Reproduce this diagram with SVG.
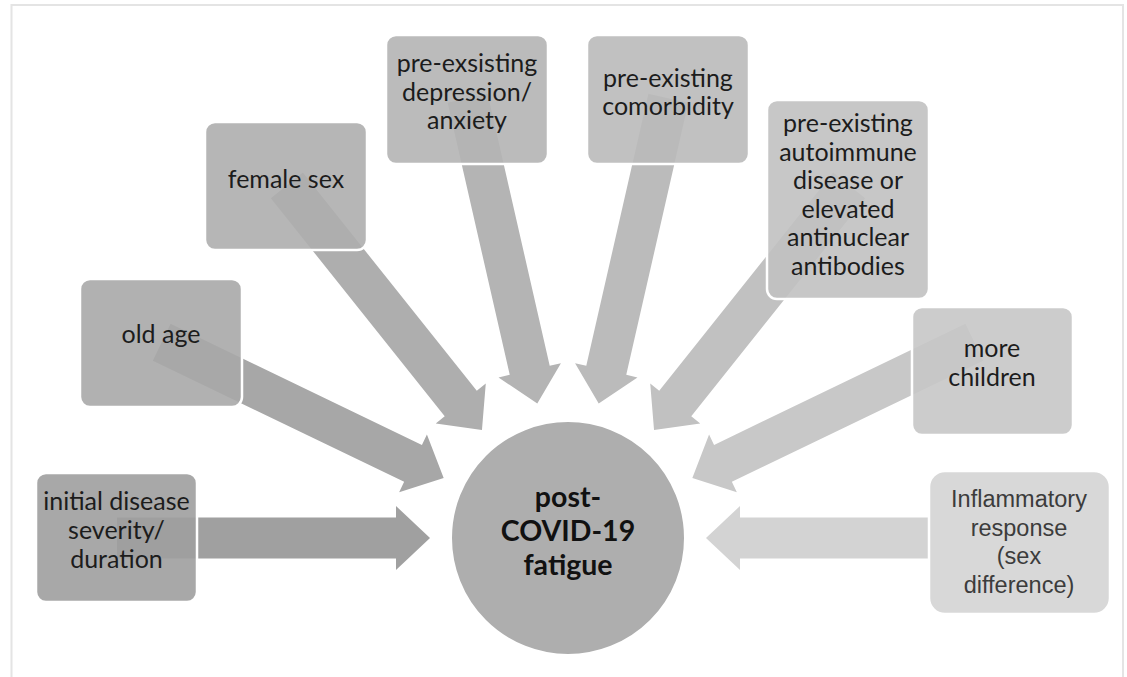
<svg xmlns="http://www.w3.org/2000/svg" xmlns:xlink="http://www.w3.org/1999/xlink" width="1127" height="677" viewBox="0 0 1127 677">
  <defs>
    <path id="arrow" d="M -451 -20.5 L -172 -20.5 L -172 -32 L -138 0 L -172 32 L -172 20.5 L -451 20.5 Z"/>
    <path id="arrowShort" d="M -362 -20.5 L -172 -20.5 L -172 -32 L -138 0 L -172 32 L -172 20.5 L -362 20.5 Z"/>
  </defs>
  <style>
    .box { stroke: #ffffff; stroke-width: 2.5; fill-opacity: 0.9; }
    .lbl { font-family: Lato, Carlito, "Liberation Sans", sans-serif; font-size: 25px; fill: #1c1c1c; text-anchor: middle; }
    .lbl2 { font-family: "Liberation Sans", Arial, sans-serif; font-size: 23.5px; fill: #3c3c3c; text-anchor: middle; }
    .hub { font-family: Lato, Carlito, "Liberation Sans", sans-serif; font-size: 28.5px; font-weight: bold; fill: #111111; text-anchor: middle; }
  </style>
  <rect x="0" y="0" width="1127" height="677" fill="#ffffff"/>
  <path d="M 11.5 677 L 11.5 5 L 1123 5 L 1123 677" fill="none" stroke="#e4e4e4" stroke-width="2"/>

  <g id="connectors">
    <use xlink:href="#arrow" href="#arrow" transform="translate(568 538) rotate(0)" fill="#a0a0a0"/>
    <use xlink:href="#arrow" href="#arrow" transform="translate(568 538) rotate(25.714)" fill="#a7a7a7"/>
    <use xlink:href="#arrow" href="#arrow" transform="translate(568 538) rotate(51.429)" fill="#aeaeae"/>
    <use xlink:href="#arrow" href="#arrow" transform="translate(568 538) rotate(77.143)" fill="#b4b4b4"/>
    <use xlink:href="#arrow" href="#arrow" transform="translate(568 538) rotate(102.857)" fill="#bbbbbb"/>
    <use xlink:href="#arrow" href="#arrow" transform="translate(568 538) rotate(128.571)" fill="#c1c1c1"/>
    <use xlink:href="#arrow" href="#arrow" transform="translate(568 538) rotate(154.286)" fill="#c8c8c8"/>
    <use xlink:href="#arrowShort" href="#arrowShort" transform="translate(568 538) rotate(180)" fill="#d3d3d3"/>
  </g>

  <g id="node-hub">
    <circle cx="568" cy="538" r="117" fill="#aeaeae" stroke="#ffffff" stroke-width="2"/>
    <text class="hub" x="568" y="507">post-</text>
    <text class="hub" x="568" y="541">COVID-19</text>
    <text class="hub" x="568" y="575">fatigue</text>
  </g>

  <g id="node-initial">
    <rect class="box" x="36" y="473" width="161" height="129" rx="10" fill="#9e9e9e"/>
    <text class="lbl" x="116.5" y="510">initial disease</text>
    <text class="lbl" x="116.5" y="539">severity/</text>
    <text class="lbl" x="116.5" y="568">duration</text>
  </g>

  <g id="node-oldage">
    <rect class="box" x="80" y="279" width="162" height="128" rx="10" fill="#a8a8a8"/>
    <text class="lbl" x="161" y="343">old age</text>
  </g>

  <g id="node-female">
    <rect class="box" x="205" y="122" width="162" height="128" rx="10" fill="#aeaeae"/>
    <text class="lbl" x="286" y="188">female sex</text>
  </g>

  <g id="node-depression">
    <rect class="box" x="386" y="35" width="162" height="129" rx="10" fill="#b4b4b4"/>
    <text class="lbl" x="467" y="72">pre-exsisting</text>
    <text class="lbl" x="467" y="100.5">depression/</text>
    <text class="lbl" x="467" y="129">anxiety</text>
  </g>

  <g id="node-comorbidity">
    <rect class="box" x="587" y="35" width="162" height="129" rx="10" fill="#bababa"/>
    <text class="lbl" x="668" y="87">pre-existing</text>
    <text class="lbl" x="668" y="115">comorbidity</text>
  </g>

  <g id="node-autoimmune">
    <rect class="box" x="767" y="100" width="162" height="199" rx="10" fill="#c1c1c1"/>
    <text class="lbl" x="848" y="132">pre-existing</text>
    <text class="lbl" x="848" y="160.5">autoimmune</text>
    <text class="lbl" x="848" y="189">disease or</text>
    <text class="lbl" x="848" y="217.5">elevated</text>
    <text class="lbl" x="848" y="246">antinuclear</text>
    <text class="lbl" x="848" y="275">antibodies</text>
  </g>

  <g id="node-children">
    <rect class="box" x="912" y="307" width="161" height="128" rx="10" fill="#c6c6c6"/>
    <text class="lbl" x="992" y="357">more</text>
    <text class="lbl" x="992" y="386">children</text>
  </g>

  <g id="node-inflammatory">
    <rect class="box" x="929" y="471" width="181" height="143" rx="16" fill="#d4d4d4" fill-opacity="1"/>
    <text class="lbl2" x="1019" y="507">Inflammatory</text>
    <text class="lbl2" x="1019" y="536">response</text>
    <text class="lbl2" x="1019" y="564">(sex</text>
    <text class="lbl2" x="1019" y="593">difference)</text>
  </g>
</svg>
